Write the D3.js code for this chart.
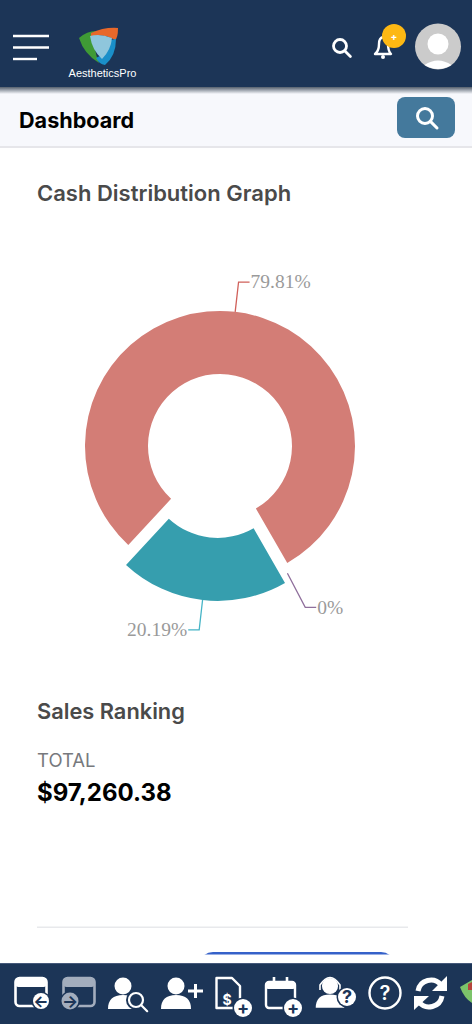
<!DOCTYPE html>
<html>
<head>
<meta charset="utf-8">
<style>
  html, body { margin: 0; padding: 0; background: #fff; overflow: hidden; }
  svg { display: block; }
  text { font-family: Inter, "Noto Sans", sans-serif; }
</style>
<script src="https://cdn.jsdelivr.net/npm/d3@7"></script>
</head>
<body>
<div id="chart"></div>
<script>
// Data
const categories = ["Cash", "Other", "Card"];
const shares = [79.81, 0, 20.19];
const shareLabels = ["79.81%", "0%", "20.19%"];
const sliceColors = ["#d37d76", "#8f6f9c", "#369eae"];
const lineColors = ["#d0605a", "#8f6f9c", "#45b4c6"];
const exploded = [false, true, true];

const navy = "#1c3557";
const width = 472, height = 1024;

const svg = d3.select("#chart").append("svg")
  .attr("width", width)
  .attr("height", height);

const defs = svg.append("defs");
const shadow = defs.append("linearGradient").attr("id", "shade").attr("x2", 0).attr("y2", 1);
shadow.append("stop").attr("offset", 0).attr("stop-color", "#55606e");
shadow.append("stop").attr("offset", 1).attr("stop-color", "#f7f8fc");

// Sub header
svg.append("rect").attr("y", 87).attr("width", width).attr("height", 59).attr("fill", "#f7f8fc");
svg.append("rect").attr("y", 87).attr("width", width).attr("height", 7).attr("fill", "url(#shade)");
svg.append("rect").attr("y", 146).attr("width", width).attr("height", 2).attr("fill", "#e6e6ea");
svg.append("text").attr("x", 19).attr("y", 128)
  .attr("font-size", 21.6).attr("font-weight", 700).attr("fill", "#000").text("Dashboard");
svg.append("rect").attr("x", 397).attr("y", 97).attr("width", 58).attr("height", 41).attr("rx", 8).attr("fill", "#44799c");
magnifier(svg, 425, 116, 7.5, "#fff", 3);

// Top bar
svg.append("rect").attr("width", width).attr("height", 87).attr("fill", navy);
[[13, 49, 36], [13, 49, 47.5], [13, 37, 59]].forEach(function (b) {
  svg.append("line").attr("x1", b[0]).attr("x2", b[1]).attr("y1", b[2]).attr("y2", b[2])
    .attr("stroke", "#fff").attr("stroke-width", 2.4);
});

// Logo
const logo = svg.append("g");
logo.append("path").attr("d", "M79 38 Q87 31 96 31 Q92 46 99 63 Q84 54 79 38Z").attr("fill", "#3f9a35");
logo.append("path").attr("d", "M91 33 Q104 27 118 28 Q118 38 115 40 Q103 33 91 37Z").attr("fill", "#e8682a");
logo.append("path").attr("d", "M116 39 Q116 56 105 65 Q99 64 96 58 Q108 54 110 40Z").attr("fill", "#1a8fc9");
logo.append("path").attr("d", "M90 36 Q100 33 112 38 Q111 50 102 59 Q92 50 90 36Z").attr("fill", "#8fc6dc");
logo.append("text").attr("x", 102.5).attr("y", 76.5).attr("text-anchor", "middle")
  .style("font-family", "'Liberation Sans', sans-serif").attr("font-size", 11).attr("fill", "#fff").text("AestheticsPro");

magnifier(svg, 340, 46, 6.5, "#fff", 2.8);

// Bell and badge
svg.append("path")
  .attr("d", "M375 54 Q379 51 379 44 Q379 38 383 37 Q388 38 388 44 Q388 51 391 54Z")
  .attr("fill", "none").attr("stroke", "#fff").attr("stroke-width", 2.4).attr("stroke-linejoin", "round");
svg.append("circle").attr("cx", 383).attr("cy", 57).attr("r", 2).attr("fill", "#fff");
svg.append("circle").attr("cx", 394).attr("cy", 36).attr("r", 12).attr("fill", "#fdb813");
svg.append("text").attr("x", 394).attr("y", 39.5).attr("text-anchor", "middle")
  .attr("font-size", 10).attr("font-weight", 700).attr("fill", "#fff").text("+");

// Avatar
svg.append("circle").attr("cx", 438).attr("cy", 46.5).attr("r", 23).attr("fill", "#cbcbcb");
svg.append("circle").attr("cx", 438).attr("cy", 44).attr("r", 10.5).attr("fill", "#fff");
svg.append("path").attr("d", "M424.500 65 Q438 56 451.500 65 Q438 73 424.500 65Z").attr("fill", "#fff");

// Headings
svg.append("text").attr("x", 37).attr("y", 201)
  .attr("font-size", 22).attr("font-weight", 600).attr("fill", "#4a4a4a").text("Cash Distribution Graph");
svg.append("text").attr("x", 37).attr("y", 719)
  .attr("font-size", 21.8).attr("font-weight", 600).attr("fill", "#4a4a4a").text("Sales Ranking");
svg.append("text").attr("x", 37).attr("y", 767)
  .attr("font-size", 18.5).attr("fill", "#77797d").text("TOTAL");
svg.append("text").attr("x", 37).attr("y", 801)
  .attr("font-size", 24).attr("font-weight", 700).attr("fill", "#000").text("$97,260.38");

// Donut
const cx = 220, cy = 446;
const outerR = 135, innerR = 72, explode = 20;
const elbowR = outerR + 30, tailLen = 11;

const pie = d3.pie().sort(null)
  .startAngle(-137.2 * Math.PI / 180)
  .endAngle(222.8 * Math.PI / 180);
const arc = d3.arc().innerRadius(innerR).outerRadius(outerR);
const arcs = pie(shares);

function polar(angle, r) {
  return [Math.sin(angle) * r, -Math.cos(angle) * r];
}

const donut = svg.append("g").attr("transform", "translate(" + cx + "," + cy + ")");

arcs.forEach(function (d, i) {
  const mid = (d.startAngle + d.endAngle) / 2;
  const shift = exploded[i] ? polar(mid, explode) : [0, 0];
  const g = donut.append("g").attr("class", categories[i])
    .attr("transform", "translate(" + shift[0] + "," + shift[1] + ")");

  g.append("path").attr("d", arc(d)).attr("fill", sliceColors[i]);

  // The empty slice has no body, its leader starts a bit inside the rim
  const isEmpty = d.value === 0;
  const lineAngle = isEmpty ? mid + 0.04 : mid;
  const start = polar(lineAngle, isEmpty ? outerR - 11 : outerR);
  const elbow = polar(lineAngle, isEmpty ? elbowR - 2.5 : elbowR);
  const dir = Math.sin(mid) >= 0 ? 1 : -1;
  const end = [elbow[0] + dir * tailLen, elbow[1]];

  g.append("path")
    .attr("d", d3.line()([start, elbow, end]))
    .attr("fill", "none")
    .attr("stroke", lineColors[i])
    .attr("stroke-width", 1.3);

  g.append("text")
    .attr("x", end[0] + dir)
    .attr("y", end[1])
    .attr("dy", "0.32em")
    .attr("text-anchor", dir > 0 ? "start" : "end")
    .style("font-family", "'Liberation Serif', serif")
    .attr("font-size", 19.5)
    .attr("fill", "#9a9a9a")
    .text(shareLabels[i]);
});

// Divider and the top sliver of a button
svg.append("rect").attr("x", 37).attr("y", 926.5).attr("width", 371).attr("height", 1.5).attr("fill", "#e8e9ec");
defs.append("clipPath").attr("id", "sliver")
  .append("rect").attr("x", 190).attr("y", 950).attr("width", 215).attr("height", 4.5);
svg.append("rect").attr("x", 199).attr("y", 952).attr("width", 196).attr("height", 30).attr("rx", 14)
  .attr("fill", "#3561c9").attr("clip-path", "url(#sliver)");

// Bottom bar
svg.append("rect").attr("y", 963).attr("width", width).attr("height", 61).attr("fill", navy);
svg.append("rect").attr("y", 963).attr("width", width).attr("height", 1).attr("fill", "#45597a");

function magnifier(parent, x, y, r, color, sw) {
  parent.append("circle").attr("cx", x).attr("cy", y).attr("r", r)
    .attr("fill", "none").attr("stroke", color).attr("stroke-width", sw);
  parent.append("line")
    .attr("x1", x + r * 0.72).attr("y1", y + r * 0.72)
    .attr("x2", x + r * 1.6).attr("y2", y + r * 1.6)
    .attr("stroke", color).attr("stroke-width", sw).attr("stroke-linecap", "round");
}

function badge(x, y, r, color, glyph, glyphColor) {
  svg.append("circle").attr("cx", x).attr("cy", y).attr("r", r + 1.5).attr("fill", navy);
  svg.append("circle").attr("cx", x).attr("cy", y).attr("r", r).attr("fill", color);
  svg.append("text").attr("x", x).attr("y", y).attr("dy", "0.36em").attr("text-anchor", "middle")
    .attr("font-size", r * 2).attr("font-weight", 700).attr("fill", glyphColor).text(glyph);
}

function windowIcon(x, color) {
  svg.append("rect").attr("x", x).attr("y", 978).attr("width", 31).attr("height", 28).attr("rx", 4)
    .attr("fill", "none").attr("stroke", color).attr("stroke-width", 2.6);
  svg.append("rect").attr("x", x).attr("y", 978).attr("width", 31).attr("height", 9).attr("rx", 3).attr("fill", color);
}

function person(x, y, s) {
  svg.append("circle").attr("cx", x).attr("cy", y).attr("r", 8.5 * s).attr("fill", "#fff");
  svg.append("path")
    .attr("d", "M" + (x - 15 * s) + " " + (y + 23 * s) + " Q" + (x - 15 * s) + " " + (y + 9 * s) + " " + x + " " + (y + 9 * s)
      + " Q" + (x + 15 * s) + " " + (y + 9 * s) + " " + (x + 15 * s) + " " + (y + 23 * s) + "Z")
    .attr("fill", "#fff");
}

windowIcon(15.500, "#fff");
badge(41, 1001, 8, "#fff", "←", navy);
windowIcon(63.500, "#a3adbd");
badge(70, 1001, 8.500, "#a3adbd", "→", navy);

person(123, 986, 1);
svg.append("circle").attr("cx", 136).attr("cy", 1000).attr("r", 10).attr("fill", navy);
magnifier(svg, 136, 1000, 7, "#fff", 2.2);

person(176, 986, 1);
svg.append("path").attr("d", "M188 991H203M195.500 984V998").attr("stroke", "#fff").attr("stroke-width", 3);

svg.append("path").attr("d", "M216.500 978H232L240 986V1008H216.500Z")
  .attr("fill", "none").attr("stroke", "#fff").attr("stroke-width", 2.4).attr("stroke-linejoin", "round");
svg.append("text").attr("x", 227).attr("y", 1005).attr("text-anchor", "middle")
  .attr("font-size", 14).attr("font-weight", 700).attr("fill", "#fff").text("$");
badge(243, 1008, 9, "#fff", "+", navy);

svg.append("rect").attr("x", 266).attr("y", 982).attr("width", 29).attr("height", 26).attr("rx", 3)
  .attr("fill", "none").attr("stroke", "#fff").attr("stroke-width", 2.4);
svg.append("rect").attr("x", 266).attr("y", 982).attr("width", 29).attr("height", 7).attr("rx", 2).attr("fill", "#fff");
svg.append("path").attr("d", "M274 977V984M287 977V984").attr("stroke", "#fff").attr("stroke-width", 2.6);
badge(293, 1008, 9, "#fff", "+", navy);

person(330, 986, 0.95);
svg.append("path").attr("d", "M320 990 V985 Q330 970 340 985 V990")
  .attr("fill", "none").attr("stroke", "#fff").attr("stroke-width", 1.6);
badge(347, 997, 9, "#fff", "?", navy);

svg.append("circle").attr("cx", 385).attr("cy", 993).attr("r", 15.500)
  .attr("fill", "none").attr("stroke", "#fff").attr("stroke-width", 2.4);
svg.append("text").attr("x", 385).attr("y", 993).attr("dy", "0.36em").attr("text-anchor", "middle")
  .attr("font-size", 20).attr("font-weight", 600).attr("fill", "#fff").text("?");

// Refresh arrows
svg.append("path").attr("d", "M418 991 A13 13 0 0 1 441 985")
  .attr("fill", "none").attr("stroke", "#fff").attr("stroke-width", 5);
svg.append("path").attr("d", "M447 976V991H432Z").attr("fill", "#fff");
svg.append("path").attr("d", "M442 996 A13 13 0 0 1 419 1002")
  .attr("fill", "none").attr("stroke", "#fff").attr("stroke-width", 5);
svg.append("path").attr("d", "M414 1010V996H429Z").attr("fill", "#fff");

// Cropped shield logo at the edge
svg.append("path").attr("d", "M460 987 L472 980 V1003 Q464 998 460 987Z").attr("fill", "#7cc36a");
svg.append("path").attr("d", "M468 984 L472 982 V990 L468 990Z").attr("fill", "#b5453c");
</script>
</body>
</html>
